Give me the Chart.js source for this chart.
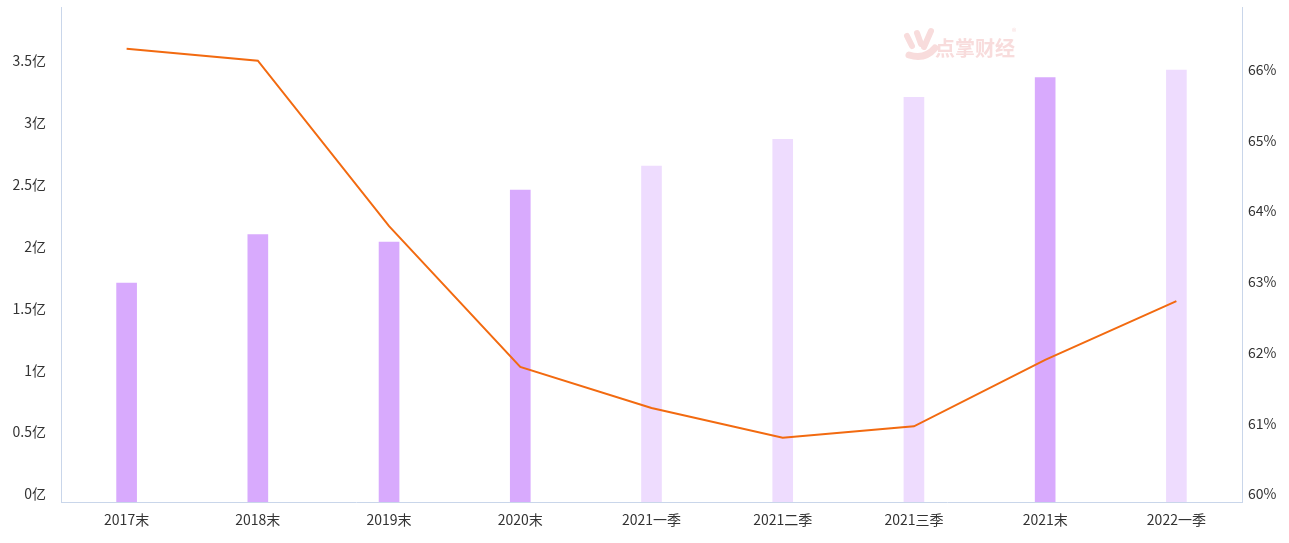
<!DOCTYPE html>
<html>
<head>
<meta charset="utf-8">
<script src="https://cdn.jsdelivr.net/npm/chart.js@4"></script>
<style>
    html, body { margin: 0; padding: 0; background: #fff; }
    #wrap { width: 1289px; height: 543px; }
</style>
</head>
<body>
<div id="wrap"><canvas id="mainChart" width="1289" height="543"></canvas></div>
<script>
// 数据
const categories = ["2017末", "2018末", "2019末", "2020末", "2021一季", "2021二季", "2021三季", "2021末", "2022一季"];
const revenue = [1.77, 2.16, 2.10, 2.52, 2.715, 2.93, 3.27, 3.43, 3.49];   // 亿
const ratio = [66.41, 66.24, 63.90, 61.91, 61.33, 60.91, 61.07, 62.01, 62.84]; // %
const isYearEnd = [true, true, true, true, false, false, false, true, false];

const darkBar = "#d8aafd";
const lightBar = "#eedcfe";
const axisColor = "#c9d6ea";
const fontFamily = "'Noto Sans CJK SC', 'Noto Sans', sans-serif";

// 水印
const watermark = {
    id: "watermark",
    beforeDatasetsDraw(chart) {
        const ctx = chart.ctx;
        ctx.save();
        ctx.fillStyle = "#f8dcdc";
        ctx.strokeStyle = "#f8dcdc";
        ctx.lineCap = "round";
        ctx.lineWidth = 6;
        // 手形图标
        ctx.beginPath(); ctx.moveTo(907, 36); ctx.lineTo(912, 46); ctx.stroke();
        ctx.beginPath(); ctx.moveTo(917, 33); ctx.lineTo(921, 44); ctx.stroke();
        ctx.beginPath(); ctx.moveTo(931, 31); ctx.lineTo(924, 47); ctx.stroke();
        ctx.lineWidth = 7;
        ctx.beginPath(); ctx.moveTo(909, 55); ctx.quadraticCurveTo(925, 60, 935, 48); ctx.stroke();
        ctx.font = "bold 20px " + fontFamily;
        ctx.textBaseline = "middle";
        ctx.fillText("点掌财经", 935, 48);
        ctx.font = "9px " + fontFamily;
        ctx.fillText("®", 1012, 32);
        ctx.restore();
    }
};

// 去掉纵轴顶部留白
function fitY(width) {
    return function (scale) {
        scale.width = width;
        scale.paddingTop = 0;
        scale.paddingBottom = 0;
    };
}

new Chart(document.getElementById("mainChart"), {
    data: {
        labels: categories,
        datasets: [
            {
                type: "line",
                data: ratio,
                yAxisID: "y1",
                borderColor: "#f26a10",
                borderWidth: 2,
                pointRadius: 0,
                tension: 0,
                order: 0
            },
            {
                type: "bar",
                data: revenue,
                yAxisID: "y",
                backgroundColor: isYearEnd.map(v => v ? darkBar : lightBar),
                barThickness: 20,
                order: 1
            }
        ]
    },
    options: {
        responsive: false,
        animation: false,
        layout: { padding: { top: 7, left: 0, right: 0, bottom: 0 } },
        plugins: {
            legend: { display: false },
            tooltip: { enabled: false }
        },
        scales: {
            x: {
                grid: { display: false, drawTicks: false },
                border: { display: true, color: axisColor, width: 1 },
                ticks: { color: "#333", padding: 9, font: { family: fontFamily, size: 14 } },
                afterFit(scale) { scale.height = 41; }
            },
            y: {
                position: "left",
                min: 0,
                max: 4,
                grid: { display: false, drawTicks: false },
                border: { display: true, color: axisColor, width: 1 },
                ticks: {
                    stepSize: 0.5,
                    color: "#333",
                    padding: 15,
                    labelOffset: -8,
                    font: { family: fontFamily, size: 14 },
                    callback: v => v >= 4 ? "" : v + "亿"
                },
                afterFit: fitY(61)
            },
            y1: {
                position: "right",
                min: 60,
                max: 67,
                grid: { display: false, drawTicks: false },
                border: { display: true, color: axisColor, width: 1 },
                ticks: {
                    stepSize: 1,
                    color: "#333",
                    padding: 6,
                    labelOffset: -8,
                    font: { family: fontFamily, size: 14 },
                    callback: v => v >= 67 ? "" : v + "%"
                },
                afterFit: fitY(47)
            }
        }
    },
    plugins: [watermark]
});
</script>
</body>
</html>
